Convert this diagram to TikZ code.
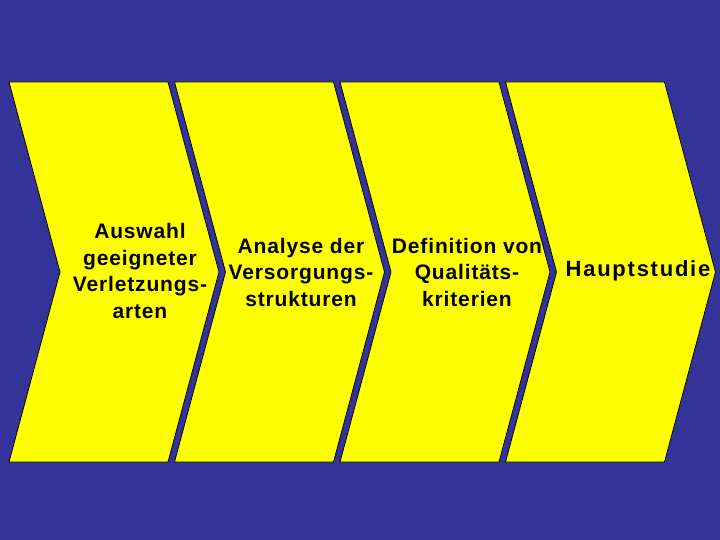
\documentclass[tikz,border=0pt]{standalone}
\usepackage{fontspec}
\setmainfont{Liberation Sans}
\definecolor{slideblue}{RGB}{51,51,153}
\definecolor{chevyellow}{RGB}{255,255,0}
\tikzset{every picture/.style={line width=0.75pt}}
\tikzset{
  chevron/.style={fill=chevyellow, draw=black, line width=0.8pt},
  steptext/.style={align=center, font=\fontsize{21}{26.5}\selectfont\bfseries\addfontfeature{LetterSpace=4}}
}

\begin{document}
\begin{tikzpicture}[x=1pt,y=1pt,yscale=-1,xscale=1]
	%set diagram to 720 x 540
	\useasboundingbox (0,0) rectangle (720,540);

	%Shape: Background
	\fill [slideblue] (0,0) rectangle (720,540);

	%Shape: Chevrons
	\foreach \i in {0,1,2,3} {
		\draw [chevron] ({9+165.5*\i},82) -- ({168+165.5*\i},82) -- ({219+165.5*\i},272) -- ({168+165.5*\i},462) -- ({9+165.5*\i},462) -- ({60+165.5*\i},272) -- cycle ;
	}

	% Text Node
	\node [steptext] (auswahl) at (140,271) {Auswahl\\geeigneter\\Verletzungs-\\arten};
	% Text Node
	\node [steptext] (analyse) at (301,272) {Analyse der\\Versorgungs-\\strukturen};
	% Text Node
	\node [steptext] (definition) at (467,272) {Definition von\\Qualitäts-\\kriterien};
	% Text Node
	\node [steptext, font=\fontsize{22}{26}\selectfont\bfseries\addfontfeature{LetterSpace=8}] (hauptstudie) at (638,271) {Hauptstudie};

\end{tikzpicture}
\end{document}
